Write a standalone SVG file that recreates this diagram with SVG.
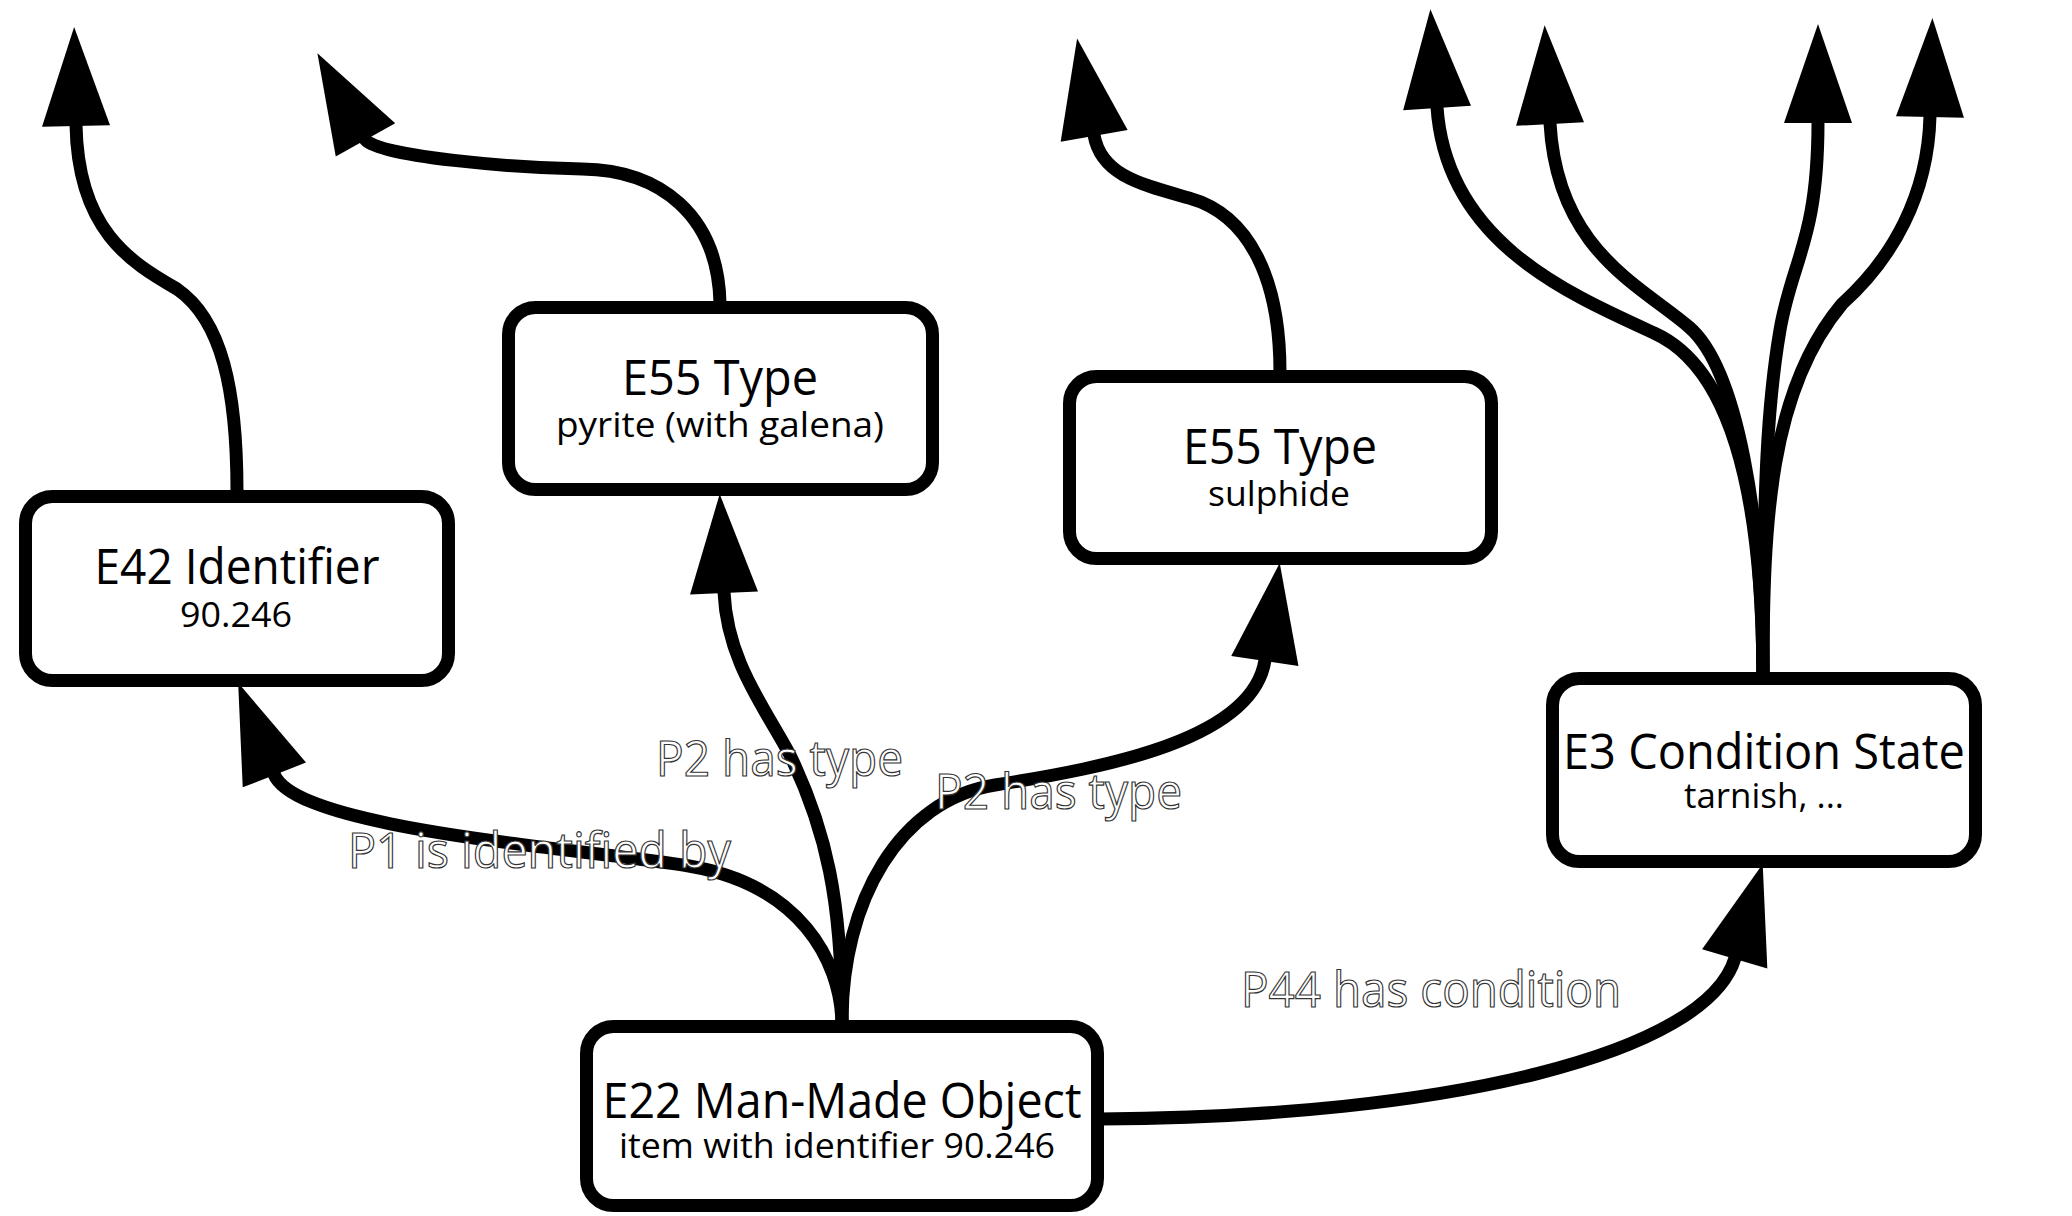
<svg xmlns="http://www.w3.org/2000/svg" width="2072" height="1216" viewBox="0 0 2072 1216">
<style>
.bg{fill:#ffffff}
.edge{fill:none;stroke:#000;stroke-width:13;marker-end:url(#ah)}
.box{fill:#fff;stroke:#000;stroke-width:13}
.t{font-family:"Open Sans","Noto Sans","DejaVu Sans",sans-serif;font-size:49px;fill:#000;text-anchor:middle}
.s{font-family:"Open Sans","Noto Sans","DejaVu Sans",sans-serif;font-size:35px;fill:#000;text-anchor:middle}
.lbl{font-family:"Open Sans","Noto Sans","DejaVu Sans",sans-serif;font-size:49px;fill:#fff;stroke:#333;stroke-width:1.2}
</style>
<defs>
<marker id="ah" markerUnits="userSpaceOnUse" viewBox="0 -35 100 70" refX="0" refY="0" markerWidth="100" markerHeight="70" orient="auto" overflow="visible">
<path d="M-1,-34 L98,0 L-1,34 z" fill="#000"/>
</marker>
</defs>
<rect class="bg" x="0" y="0" width="2072" height="1216"/>
<g id="connectors">
<path id="c-p1" class="edge" d="M842,1022 C840,960 800,885 689,866 C580,848 296,830 274,774"/>
<path id="c-p2a" class="edge" d="M842,1022 C842,900 826,830 790,755 C763,705 727,660 724,592"/>
<path id="c-p2b" class="edge" d="M842,1022 C842,900 900,800 995,785 C1109,767 1253,739 1265,660"/>
<path id="c-p44" class="edge" d="M1100,1119 C1450,1117 1707,1053 1735,958"/>
<path id="c-e42-out" class="edge" d="M237,492 C237,390 222,320 177,289 C130,262 78,230 76,125"/>
<path id="c-e55a-out" class="edge" d="M720,303 C718,215 660,170 582,169 C520,168 375,157 365,139"/>
<path id="c-e55b-out" class="edge" d="M1280,372 C1280,280 1250,215 1189,198 C1140,184 1101,175 1094,135"/>
<path id="c-e3-1" class="edge" d="M1763,674 C1762,500 1734,369 1654,333 C1564,292 1446,240 1437,107"/>
<path id="c-e3-2" class="edge" d="M1763,674 C1762,520 1738,369 1689,327 C1640,285 1557,250 1550,123"/>
<path id="c-e3-3" class="edge" d="M1763,674 C1763,480 1768,400 1780,330 C1792,260 1818,240 1818,122"/>
<path id="c-e3-4" class="edge" d="M1763,674 C1763,520 1770,390 1842,304 C1892,259 1928,196 1930,116"/>
</g>
<g id="n-e42">
<rect class="box" x="25.5" y="496.5" width="423" height="184" rx="27"/>
<text class="t" x="237" y="584" textLength="285" lengthAdjust="spacingAndGlyphs">E42 Identifier</text>
<text class="s" x="236" y="627" textLength="112" lengthAdjust="spacingAndGlyphs">90.246</text>
</g>
<g id="n-e55a">
<rect class="box" x="508.5" y="307.5" width="424" height="182" rx="27"/>
<text class="t" x="720" y="395" textLength="196" lengthAdjust="spacingAndGlyphs">E55 Type</text>
<text class="s" x="720" y="437" textLength="328" lengthAdjust="spacingAndGlyphs">pyrite (with galena)</text>
</g>
<g id="n-e55b">
<rect class="box" x="1069.5" y="376.5" width="422" height="182" rx="27"/>
<text class="t" x="1280" y="464" textLength="194" lengthAdjust="spacingAndGlyphs">E55 Type</text>
<text class="s" x="1279" y="506" textLength="142" lengthAdjust="spacingAndGlyphs">sulphide</text>
</g>
<g id="n-e3">
<rect class="box" x="1552.5" y="678.5" width="423" height="183" rx="27"/>
<text class="t" x="1764" y="769" textLength="402" lengthAdjust="spacingAndGlyphs">E3 Condition State</text>
<text class="s" x="1764" y="808" textLength="160" lengthAdjust="spacingAndGlyphs">tarnish, ...</text>
</g>
<g id="n-e22">
<rect class="box" x="586.5" y="1026.5" width="511" height="179" rx="27"/>
<text class="t" x="842" y="1118" textLength="479" lengthAdjust="spacingAndGlyphs">E22 Man-Made Object</text>
<text class="s" x="837" y="1158" textLength="436" lengthAdjust="spacingAndGlyphs">item with identifier 90.246</text>
</g>
<g id="labels">
<text class="lbl" x="348" y="868" textLength="383" lengthAdjust="spacingAndGlyphs">P1 is identified by</text>
<text class="lbl" x="656" y="776" textLength="247" lengthAdjust="spacingAndGlyphs">P2 has type</text>
<text class="lbl" x="935" y="809" textLength="247" lengthAdjust="spacingAndGlyphs">P2 has type</text>
<text class="lbl" x="1241" y="1007" textLength="380" lengthAdjust="spacingAndGlyphs">P44 has condition</text>
</g>
</svg>
